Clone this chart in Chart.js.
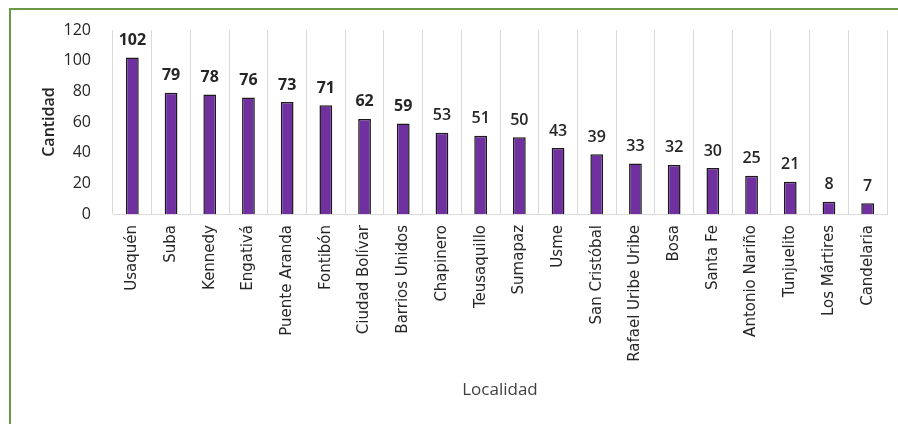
<!DOCTYPE html>
<html>
<head>
<meta charset="utf-8">
<script src="https://cdn.jsdelivr.net/npm/chart.js@4.4.0/dist/chart.umd.min.js"></script>
<style>
    html, body { margin: 0; padding: 0; background: #fff; }
    #frame {
        position: absolute; left: 9px; top: 8px; width: 900px; height: 430px;
        border-left: 2px solid #6a9a45; border-top: 2px solid #6a9a45;
    }
    #wrap { position: absolute; left: 0; top: 0; width: 898px; height: 424px; }
</style>
</head>
<body>
<div id="frame"></div>
<div id="wrap"><canvas id="chart"></canvas></div>
<script>
// Localidades y cantidades
const localidades = [
    'Usaquén', 'Suba', 'Kennedy', 'Engativá', 'Puente Aranda', 'Fontibón',
    'Ciudad Bolívar', 'Barrios Unidos', 'Chapinero', 'Teusaquillo', 'Sumapaz',
    'Usme', 'San Cristóbal', 'Rafael Uribe Uribe', 'Bosa', 'Santa Fe',
    'Antonio Nariño', 'Tunjuelito', 'Los Mártires', 'Candelaria'
];
const cantidades = [102, 79, 78, 76, 73, 71, 62, 59, 53, 51, 50, 43, 39, 33, 32, 30, 25, 21, 8, 7];
const yTicks = [0, 20, 40, 60, 80, 100, 120];

const FONT = '"Open Sans", "Noto Sans", sans-serif';

// Draw value labels above each bar
const valueLabels = {
    id: 'valueLabels',
    afterDatasetsDraw(chart) {
        const ctx = chart.ctx;
        const meta = chart.getDatasetMeta(0);
        ctx.save();
        ctx.fillStyle = '#262626';
        ctx.textAlign = 'center';
        ctx.textBaseline = 'bottom';
        meta.data.forEach((bar, i) => {
            ctx.font = (i < 8 ? 'bold ' : '600 ') + '16px ' + FONT;
            ctx.fillText(String(cantidades[i]), bar.x, bar.y - 9);
        });
        ctx.restore();
    }
};

new Chart(document.getElementById('chart'), {
    type: 'bar',
    data: {
        labels: localidades,
        datasets: [{
            data: cantidades,
            backgroundColor: '#7030a0',
            borderColor: '#1a1a1a',
            borderWidth: 1.5,
            barPercentage: 0.33,
            categoryPercentage: 1
        }]
    },
    options: {
        responsive: true,
        maintainAspectRatio: false,
        animation: false,
        layout: { padding: { top: 30, right: 11, left: 0, bottom: 20 } },
        plugins: {
            legend: { display: false },
            tooltip: { enabled: false }
        },
        scales: {
            x: {
                offset: true,
                grid: { display: true, offset: true, color: '#d9d9d9', drawTicks: false },
                border: { display: true, color: '#d9d9d9' },
                ticks: {
                    color: '#262626',
                    font: { family: '"DejaVu Sans", sans-serif', size: 15 },
                    maxRotation: 90, minRotation: 90,
                    autoSkip: false,
                    padding: 11
                },
                title: {
                    display: true, text: 'Localidad',
                    color: '#404040',
                    font: { family: '"Liberation Sans Narrow", "Open Sans", sans-serif', size: 17 },
                    padding: { top: 8 }
                },
                afterFit(scale) { scale.height = 424 - 214 - 20; }
            },
            y: {
                min: 0, max: 120,
                afterBuildTicks(scale) { scale.ticks = yTicks.map(v => ({ value: v })); },
                grid: { display: false },
                border: { display: false },
                ticks: {
                    color: '#262626',
                    font: { family: FONT, size: 16 },
                    padding: 14
                },
                title: {
                    display: true, text: 'Cantidad',
                    color: '#262626',
                    font: { family: FONT, size: 16, weight: '600' },
                    padding: { top: 40, bottom: 4 }
                },
                afterFit(scale) { scale.width = 113; }
            }
        }
    },
    plugins: [valueLabels]
});
</script>
</body>
</html>
